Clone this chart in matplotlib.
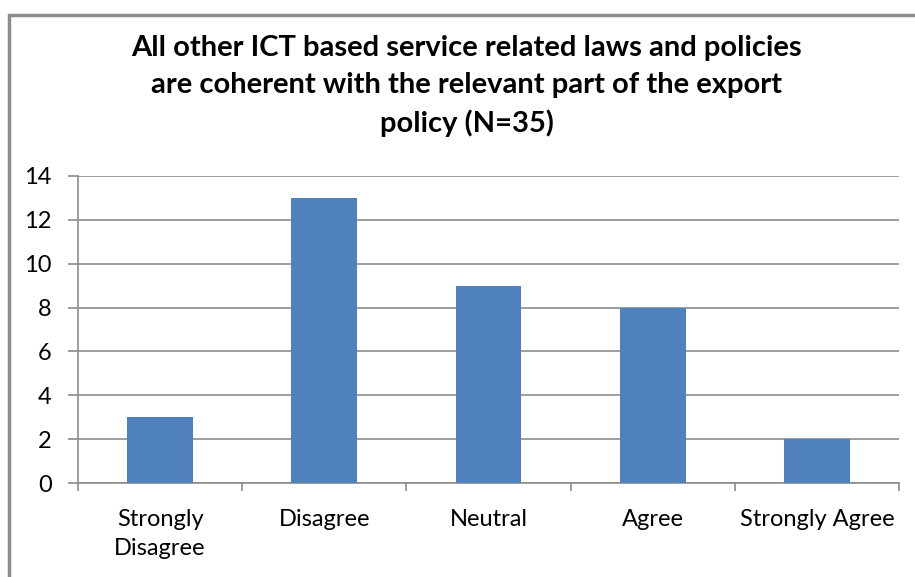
import numpy as np
import matplotlib.pyplot as plt
from matplotlib.patches import Rectangle

# Données
categories = ['Strongly\nDisagree', 'Disagree', 'Neutral', 'Agree', 'Strongly Agree']
counts = [3, 13, 9, 8, 2]
y_ticks = [0, 2, 4, 6, 8, 10, 12, 14]

plt.rcParams['font.family'] = ['Lato', 'DejaVu Sans']

fig = plt.figure(figsize=(9.15, 5.77), dpi=100)
ax = fig.add_axes([0.0852, 0.1629, 0.8973, 0.5321])

x = np.arange(len(categories))
ax.bar(x, counts, width=0.4, color='#4F81BD', zorder=3)

ax.set_xlim(-0.5, len(categories) - 0.5)
ax.set_ylim(0, 14)
ax.set_yticks(y_ticks)
ax.set_yticklabels([str(v) for v in y_ticks], fontsize=17)
ax.yaxis.grid(True, color='#8C8C8C', linewidth=1.2, zorder=0)

# Ticks x aux frontières des catégories
ax.set_xticks(np.arange(-0.5, len(categories)), minor=False)
ax.set_xticklabels([])
ax.set_xticks(x, minor=True)
ax.set_xticklabels(categories, minor=True, fontsize=17, linespacing=1.45)
ax.tick_params(axis='x', which='major', length=6, color='#8C8C8C', width=1.2)
ax.tick_params(axis='x', which='minor', length=0, pad=19)
ax.tick_params(axis='y', length=7, color='#8C8C8C', width=1.2, pad=12)

for side in ['top', 'right']:
    ax.spines[side].set_visible(False)
for side in ['left', 'bottom']:
    ax.spines[side].set_color('#8C8C8C')
    ax.spines[side].set_linewidth(1.2)

fig.text(0.51, 0.851,
         'All other ICT based service related laws and policies\n'
         'are coherent with the relevant part of the export\n'
         'policy (N=35)',
         ha='center', va='center', fontsize=21, fontweight='bold',
         linespacing=1.5)

# Cadre du graphique
fig.patches.append(Rectangle((9 / 915, -0.01), 1.0, 1 - 9 / 577,
                             transform=fig.transFigure, fill=False,
                             edgecolor='#8C8C8C', linewidth=2.5))

fig.savefig('out.png', dpi=100)
